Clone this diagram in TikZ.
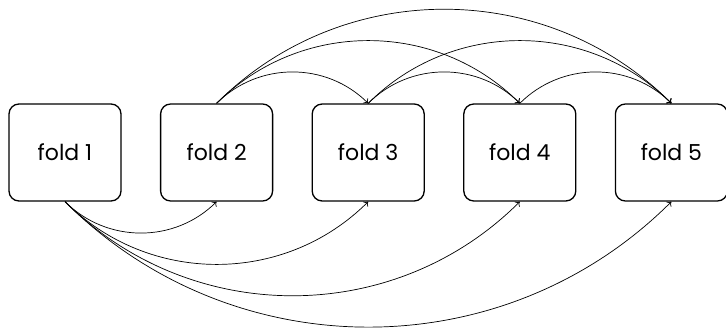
\documentclass[tikz,border=0pt]{standalone}
\usepackage{fontspec}
\setmainfont{Poppins}
\usetikzlibrary{arrows.meta}
\begin{document}
\begin{tikzpicture}[x=1pt,y=1pt,
  foldbox/.style={draw, line width=1.3pt, rounded corners=10pt, minimum width=112pt, minimum height=97pt, inner sep=0pt, font=\fontsize{22}{26}\selectfont},
  link/.style={line width=0.7pt, -{To[length=4pt,width=7pt]}}]
\useasboundingbox (0,0) rectangle (726,-329);
\node[foldbox] (f1) at (65,-152.5) {fold 1};
\node[foldbox] (f2) at (216.6,-152.5) {fold 2};
\node[foldbox] (f3) at (368.2,-152.5) {fold 3};
\node[foldbox] (f4) at (519.8,-152.5) {fold 4};
\node[foldbox] (f5) at (671.4,-152.5) {fold 5};
\foreach \t in {f2,f3,f4,f5}
  \draw[link] (f1.south) to[bend right=45] (\t.south);
\foreach \s/\t in {f2/f3,f2/f4,f2/f5,f3/f4,f3/f5,f4/f5}
  \draw[link] (\s.north) to[bend left=45] (\t.north);
\end{tikzpicture}
\end{document}
